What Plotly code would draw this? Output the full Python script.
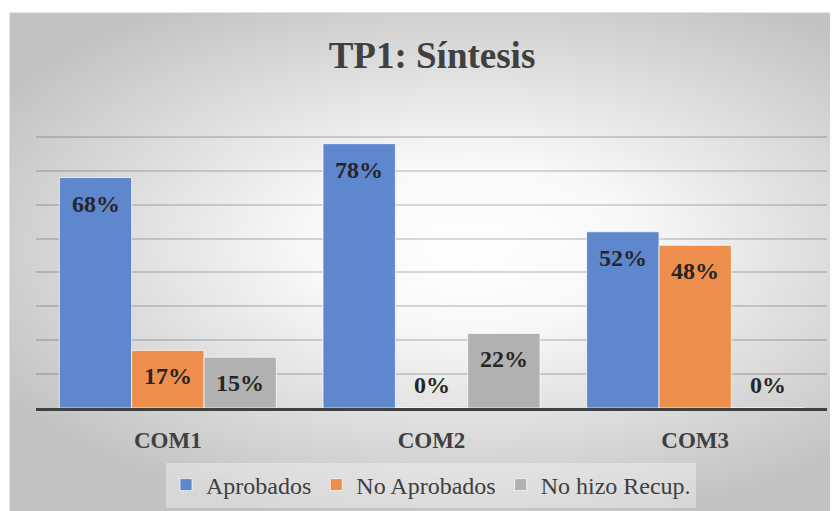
import plotly.graph_objects as go

categories = ["COM1", "COM2", "COM3"]
series_names = ["Aprobados", "No Aprobados", "No hizo Recup."]
aprobados = [0.68, 0.78, 0.52]
no_aprobados = [0.17, 0.00, 0.48]
no_hizo = [0.15, 0.22, 0.00]
series_values = [aprobados, no_aprobados, no_hizo]
colors = ["#5F87CE", "#EE8E4D", "#B1B1B1"]
y_ticks = [0, 0.1, 0.2, 0.3, 0.4, 0.5, 0.6, 0.7, 0.8, 0.9]

# page body has an 8px margin: figure is sized to fit the 838x511 window
OFF = 8
W, H = 838 - OFF, 511 - OFF
SERIF = "Liberation Serif, Times New Roman, serif"
bargap = 0.177


def fx(px):
    return (px - OFF) / W


def fy(py):
    return 1 - (py - OFF) / H


fig = go.Figure()

# background radial gradient (decoration, in pixel-space axes)
bx0, bx1, by0, by1 = -80, 1020, -40, 530
fig.add_trace(go.Scatter(
    x=[bx0, bx1, bx1, bx0, bx0], y=[by0, by0, by1, by1, by0],
    fill="toself", mode="none",
    fillgradient=dict(type="radial",
                      colorscale=[[0, "#FFFFFF"], [0.3, "#F8F8F8"], [1, "#C2C2C2"]]),
    xaxis="x", yaxis="y", showlegend=False, hoverinfo="skip"))

for name, vals, col in zip(series_names, series_values, colors):
    fig.add_trace(go.Bar(
        x=categories, y=vals, name=name, xaxis="x2", yaxis="y2",
        marker=dict(color=col, line=dict(color="rgba(255,255,255,0.7)", width=1)),
        hoverinfo="skip"))

bw = (1 - bargap) / len(series_names)
annotations = []
for j, vals in enumerate(series_values):
    for i, v in enumerate(vals):
        annotations.append(dict(
            x=i + (j - 1) * bw, y=v, xref="x2", yref="y2",
            text=f"{round(v * 100)}%", showarrow=False,
            yanchor="middle", yshift=-26 if v > 0 else 23,
            font=dict(family=SERIF, size=24, color="#262626", weight="bold")))

fig.update_layout(
    width=W, height=H,
    margin=dict(l=0, r=0, t=0, b=0),
    paper_bgcolor="white", plot_bgcolor="rgba(0,0,0,0)",
    barmode="group", bargap=bargap, bargroupgap=0,
    title=dict(text="TP1: Síntesis", x=fx(432), xanchor="center",
               y=fy(55), yanchor="middle", xref="paper", yref="paper",
               font=dict(family=SERIF, size=37, color="#404040", weight="bold")),
    xaxis=dict(domain=[fx(10), 1], range=[10, 838], visible=False, fixedrange=True),
    yaxis=dict(domain=[0, fy(13)], range=[511, 13], visible=False, fixedrange=True),
    xaxis2=dict(domain=[fx(36), fx(827)], anchor="y2", showgrid=False,
                showline=True, linecolor="#404040", linewidth=3,
                ticks="", ticklabelstandoff=9,
                tickfont=dict(family=SERIF, size=23, color="#404040", weight="bold")),
    yaxis2=dict(domain=[fy(408), fy(103)], anchor="x2", range=[0, 0.9],
                tickvals=y_ticks, showticklabels=False, ticks="",
                showgrid=True, gridcolor="rgba(0,0,0,0.15)", gridwidth=1.5,
                zeroline=False, showline=False),
    legend=dict(orientation="h", x=fx(431), xanchor="center",
                y=fy(485), yanchor="middle",
                bgcolor="rgba(255,255,255,0.35)",
                font=dict(family=SERIF, size=24, color="#404040")),
    annotations=annotations,
    shapes=[dict(type="rect", xref="paper", yref="paper",
                 x0=fx(10), x1=1.01, y0=-0.01, y1=fy(13),
                 line=dict(color="#C8C8C8", width=1), layer="above")],
)

fig.write_html("out.html")
